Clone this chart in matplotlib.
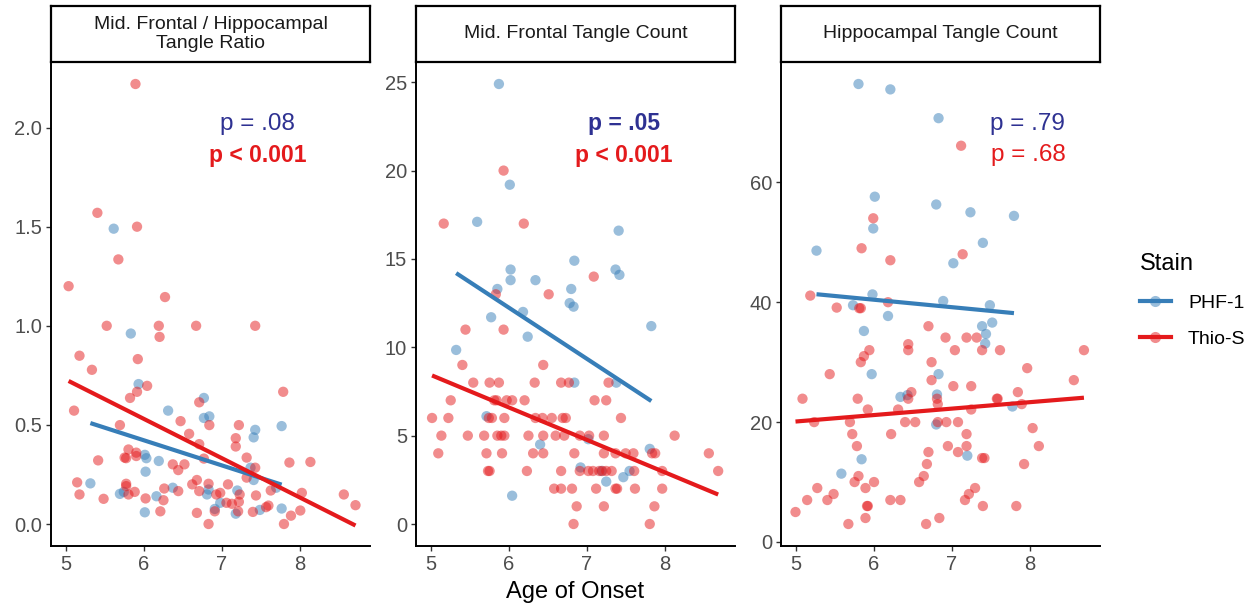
#!/usr/bin/env python3
"""Tangle burden vs. age of onset, split by stain (PHF-1 / Thio-S)."""

import numpy as np
import matplotlib
matplotlib.use("Agg")
import matplotlib.pyplot as plt
from matplotlib.lines import Line2D

plt.rcParams["font.family"] = ["Liberation Sans", "DejaVu Sans"]

STAIN_COLORS = {"PHF-1": "#377EB8", "Thio-S": "#E41A1C"}
BLUE_TEXT = "#2E3192"

# --- Mid. frontal / hippocampal tangle ratio ---
ratio_phf_age = [5.61, 5.83, 5.93, 6.77, 6.31, 6.77, 6.84, 7.43, 7.77, 7.41,
                 6.01, 6.03, 6.19, 6.02, 7.37, 7.41, 7.70, 6.83, 5.31, 5.74,
                 5.69, 6.16, 6.37, 6.81, 6.98, 6.91, 7.20, 7.18, 6.01, 7.49, 7.77]
ratio_phf = [1.49, 0.961, 0.706, 0.636, 0.572, 0.535, 0.543, 0.475, 0.494, 0.437,
             0.349, 0.332, 0.318, 0.264, 0.284, 0.222, 0.183, 0.174, 0.205, 0.162,
             0.152, 0.140, 0.183, 0.149, 0.107, 0.076, 0.169, 0.052, 0.059, 0.071, 0.078]
ratio_thio_age = [5.89, 5.40, 5.91, 5.67, 5.03, 6.27, 5.52, 6.19, 6.20, 6.67,
                  7.43, 5.17, 5.92, 5.33, 6.04, 5.91, 5.82, 7.79, 6.71, 5.10,
                  6.47, 5.69, 6.84, 7.22, 6.58, 7.18, 6.71, 7.18, 7.32, 6.77,
                  5.41, 5.80, 5.90, 5.90, 5.75, 5.77, 6.37, 6.52, 7.87, 8.14,
                  6.44, 7.43, 7.32, 7.08, 6.62, 6.68, 7.63, 6.83, 5.77, 5.77,
                  5.14, 5.17, 5.48, 5.88, 5.80, 6.02, 6.26, 6.44, 6.25, 6.71,
                  6.93, 6.98, 6.91, 7.06, 7.13, 7.23, 7.22, 7.21, 6.21, 6.68,
                  7.44, 7.40, 7.57, 7.60, 7.89, 8.01, 8.03, 8.57, 8.72, 6.83, 7.80]
ratio_thio = [2.22, 1.57, 1.50, 1.335, 1.20, 1.145, 1.00, 1.00, 0.944, 1.00,
              1.00, 0.849, 0.832, 0.778, 0.697, 0.667, 0.636, 0.667, 0.614, 0.572,
              0.519, 0.499, 0.499, 0.499, 0.455, 0.433, 0.403, 0.391, 0.335, 0.330,
              0.321, 0.376, 0.360, 0.343, 0.335, 0.332, 0.301, 0.301, 0.310, 0.313,
              0.272, 0.284, 0.234, 0.200, 0.200, 0.222, 0.169, 0.203, 0.203, 0.191,
              0.210, 0.149, 0.127, 0.162, 0.149, 0.129, 0.179, 0.166, 0.120, 0.166,
              0.149, 0.157, 0.064, 0.107, 0.102, 0.149, 0.112, 0.064, 0.064, 0.056,
              0.144, 0.061, 0.085, 0.093, 0.042, 0.068, 0.157, 0.149, 0.095, 0.0, 0.0]

# --- Mid. frontal tangle count ---
mf_phf_age = [5.87, 6.01, 5.59, 7.41, 6.84, 6.02, 6.02, 6.34, 7.37, 7.42,
              5.85, 6.80, 6.78, 6.83, 5.77, 6.18, 7.83, 6.24, 5.32, 6.84,
              7.38, 5.71, 7.02, 6.40, 7.81, 6.92, 7.19, 7.55, 7.47, 7.25, 6.04]
mf_phf = [24.9, 19.2, 17.1, 16.6, 14.9, 14.4, 13.8, 13.8, 14.4, 14.1,
          13.3, 13.3, 12.5, 12.3, 11.7, 12.0, 11.2, 10.6, 9.85, 8.0,
          8.0, 6.1, 4.8, 4.5, 4.25, 3.2, 3.0, 3.0, 2.65, 2.4, 1.6]
mf_thio_age = [5.93, 5.16, 6.19, 7.09, 5.83, 6.51, 5.93, 5.44, 5.40, 6.44,
               5.54, 5.75, 5.87, 6.33, 6.67, 6.77, 7.28,
               5.25, 5.81, 5.84, 5.97, 6.04, 6.20, 7.10, 7.25,
               5.01, 5.22, 5.74, 5.78, 5.94, 6.34, 6.43, 6.55, 6.69, 6.73, 7.44,
               5.13, 5.47, 5.68, 5.85, 5.90, 5.94, 6.25, 6.44, 6.60, 6.71, 6.91,
               7.03, 7.22, 8.13,
               5.09, 5.71, 5.91, 6.31, 6.44, 6.84, 7.22, 7.37, 7.50, 7.60, 7.84,
               7.88, 8.57,
               5.73, 5.75, 6.23, 6.67, 6.91, 7.02, 7.08, 7.16, 7.20, 7.25, 7.32,
               7.61, 7.97, 8.69,
               6.58, 6.67, 6.81, 7.12, 7.37, 7.39, 7.62, 7.97,
               6.87, 7.22, 7.87,
               6.83, 7.81]
mf_thio = [20, 17, 17, 14, 13, 13, 11, 11, 9, 9,
           8, 8, 8, 8, 8, 8, 8,
           7, 7, 7, 7, 7, 7, 7, 7,
           6, 6, 6, 6, 6, 6, 6, 6, 6, 6, 6,
           5, 5, 5, 5, 5, 5, 5, 5, 5, 5, 5, 5, 5, 5,
           4, 4, 4, 4, 4, 4, 4, 4, 4, 4, 4, 4, 4,
           3, 3, 3, 3, 3, 3, 3, 3, 3, 3, 3, 3, 3, 3,
           2, 2, 2, 2, 2, 2, 2, 2,
           1, 1, 1,
           0, 0]

# --- Hippocampal tangle count ---
hip_phf_age = [5.80, 6.21, 6.83, 6.01, 6.80, 7.24, 7.80, 5.99, 5.26, 7.40,
               7.02, 5.98, 5.73, 6.18, 6.89, 7.49, 7.52, 7.39, 7.44, 7.43,
               5.87, 5.97, 6.83, 6.34, 6.43, 6.81, 7.78, 6.80, 7.20, 5.84, 5.58]
hip_phf = [76.4, 75.5, 70.7, 57.6, 56.3, 55.0, 54.4, 52.3, 48.6, 49.9,
           46.5, 41.3, 39.5, 37.7, 40.2, 39.5, 36.6, 36.0, 34.7, 33.1,
           35.2, 28.0, 28.0, 24.2, 24.5, 24.6, 22.6, 19.6, 14.4, 13.8, 11.4]
hip_thio_age = [7.12, 5.99, 5.84, 7.14, 6.21, 5.18, 5.52, 5.81, 5.83, 6.18,
                6.70, 6.92, 7.19, 7.32, 6.44, 6.44, 7.04, 7.39, 7.62, 8.70,
                5.94, 5.87, 5.83, 6.74, 5.43, 7.97, 6.74, 8.57, 7.02, 7.25,
                7.85, 6.48, 6.44, 6.81, 5.08, 5.79, 7.58, 7.59, 6.82, 7.90,
                6.31, 5.92, 7.25, 5.23, 5.69, 6.40, 6.53, 6.82, 6.93, 7.08,
                8.04, 5.72, 6.22, 7.19, 5.78, 6.95, 7.19, 8.12, 6.70, 7.08,
                7.39, 7.42, 6.68, 7.93, 5.80, 6.64, 5.75, 6.00, 6.58, 5.27,
                5.89, 7.30, 5.48, 7.22, 5.14, 5.40, 6.21, 6.34, 7.17, 5.91,
                5.92, 7.40, 7.83, 4.99, 5.89, 6.84, 5.67, 6.67]
hip_thio = [66.1, 54.0, 49.0, 48.0, 47.0, 41.1, 39.1, 39.0, 39.0, 40.0,
            36.0, 34.1, 34.1, 34.1, 33.0, 32.0, 32.0, 32.0, 32.0, 32.0,
            32.0, 31.0, 30.0, 30.0, 28.0, 29.0, 27.0, 27.0, 26.0, 26.0,
            25.0, 25.0, 23.9, 23.9, 23.9, 23.9, 23.9, 23.9, 23.0, 23.0,
            22.1, 22.1, 22.1, 20.0, 20.0, 20.0, 20.0, 20.0, 20.0, 20.0,
            19.0, 18.0, 18.0, 18.0, 16.0, 16.0, 16.0, 16.0, 15.0, 15.0,
            14.0, 14.0, 13.0, 13.0, 11.0, 11.0, 10.0, 10.0, 10.0, 9.0,
            9.0, 9.0, 8.0, 8.0, 7.0, 7.0, 7.0, 7.0, 7.0, 6.0,
            6.0, 6.0, 6.0, 5.0, 4.0, 4.0, 3.0, 3.0]

PANEL_TITLES = ["Mid. Frontal / Hippocampal\nTangle Ratio",
                "Mid. Frontal Tangle Count",
                "Hippocampal Tangle Count"]
PANEL_YTICKS = [[0.0, 0.5, 1.0, 1.5, 2.0], [0, 5, 10, 15, 20, 25], [0, 20, 40, 60]]
PANEL_YFMT = ["{:.1f}", "{:.0f}", "{:.0f}"]
# (label, bold) for PHF-1 then Thio-S
PANEL_PVALS = [
    [("p = .08", False), ("p < 0.001", True)],
    [("p = .05", True), ("p < 0.001", True)],
    [("p = .79", False), ("p = .68", False)],
]
PVAL_X = [0.648, 0.652, 0.774]
XTICKS = [5, 6, 7, 8]

# figure layout in pixels (1252 x 605)
FIG_W, FIG_H = 1252, 605
PANEL_LEFT = [51, 416, 781]
PANEL_W = 319
PANEL_TOP, PANEL_BOTTOM = 62, 546
STRIP_TOP = 6


def add_panel(fig, left_px, title):
    l = left_px / FIG_W
    b = (FIG_H - PANEL_BOTTOM) / FIG_H
    w = PANEL_W / FIG_W
    h = (PANEL_BOTTOM - PANEL_TOP) / FIG_H
    ax = fig.add_axes([l, b, w, h])

    strip = fig.add_axes([l, (FIG_H - PANEL_TOP) / FIG_H, w,
                          (PANEL_TOP - STRIP_TOP) / FIG_H])
    strip.set_xticks([])
    strip.set_yticks([])
    for s in strip.spines.values():
        s.set_linewidth(1.6)
        s.set_color("black")
    strip.text(0.5, 0.5, title, ha="center", va="center", fontsize=14,
               color="#1A1A1A", linespacing=1.2, transform=strip.transAxes)
    return ax


def draw_stain(ax, xs, ys, color):
    xs = np.asarray(xs, dtype=float)
    ys = np.asarray(ys, dtype=float)
    ax.scatter(xs, ys, s=55, color=color, alpha=0.5, edgecolors="none", zorder=2)
    slope, intercept = np.polyfit(xs, ys, 1)
    fx = np.linspace(xs.min(), xs.max(), 50)
    ax.plot(fx, slope * fx + intercept, color=color, lw=3.0,
            solid_capstyle="butt", zorder=3)


def main():
    fig = plt.figure(figsize=(FIG_W / 100, FIG_H / 100), dpi=100)

    panels = [
        (ratio_phf_age, ratio_phf, ratio_thio_age, ratio_thio),
        (mf_phf_age, mf_phf, mf_thio_age, mf_thio),
        (hip_phf_age, hip_phf, hip_thio_age, hip_thio),
    ]

    all_x = np.concatenate([np.asarray(a, dtype=float) for p in panels for a in (p[0], p[2])])
    xpad = 0.05 * (all_x.max() - all_x.min())

    for i, (px, py, tx, ty) in enumerate(panels):
        ax = add_panel(fig, PANEL_LEFT[i], PANEL_TITLES[i])
        draw_stain(ax, px, py, STAIN_COLORS["PHF-1"])
        draw_stain(ax, tx, ty, STAIN_COLORS["Thio-S"])

        all_y = np.concatenate([np.asarray(py, float), np.asarray(ty, float)])
        ypad = 0.05 * (all_y.max() - all_y.min())
        ax.set_ylim(all_y.min() - ypad, all_y.max() + ypad)
        ax.set_xlim(all_x.min() - xpad, all_x.max() + xpad)

        ax.set_xticks(XTICKS)
        ax.set_xticklabels([str(t) for t in XTICKS])
        ax.set_yticks(PANEL_YTICKS[i])
        ax.set_yticklabels([PANEL_YFMT[i].format(t) for t in PANEL_YTICKS[i]])

        for side in ("top", "right"):
            ax.spines[side].set_visible(False)
        for side in ("left", "bottom"):
            ax.spines[side].set_linewidth(1.4)
            ax.spines[side].set_color("black")
        ax.tick_params(axis="both", labelsize=14.5, labelcolor="#4D4D4D",
                       color="#333333", length=3.5, width=1.0, pad=3)

        (blue_lbl, blue_bold), (red_lbl, red_bold) = PANEL_PVALS[i]
        ax.text(PVAL_X[i], 0.872, blue_lbl, transform=ax.transAxes, ha="center",
                va="center", fontsize=17.5 if not blue_bold else 16.5,
                color=BLUE_TEXT, fontweight="bold" if blue_bold else "normal")
        ax.text(PVAL_X[i], 0.807, red_lbl, transform=ax.transAxes, ha="center",
                va="center", fontsize=17.5 if not red_bold else 16.5,
                color=STAIN_COLORS["Thio-S"],
                fontweight="bold" if red_bold else "normal")

        if i == 1:
            ax.set_xlabel("Age of Onset", fontsize=17, color="black", labelpad=5)

    handles = []
    for name in ("PHF-1", "Thio-S"):
        c = STAIN_COLORS[name]
        line = Line2D([], [], color=c, lw=3.0)
        dot = Line2D([], [], color=c, marker="o", markersize=8, alpha=0.5, lw=0,
                     markeredgewidth=0)
        handles.append((dot, line))
    leg = fig.legend(handles, ["PHF-1", "Thio-S"], title="Stain",
                     loc="upper left", bbox_to_anchor=(1122 / FIG_W, 1 - 236 / FIG_H),
                     frameon=False, fontsize=14, title_fontsize=17,
                     handlelength=1.6, handletextpad=0.9, labelspacing=0.95)
    leg._legend_box.align = "left"

    fig.savefig("out.png", dpi=100)


if __name__ == "__main__":
    main()
